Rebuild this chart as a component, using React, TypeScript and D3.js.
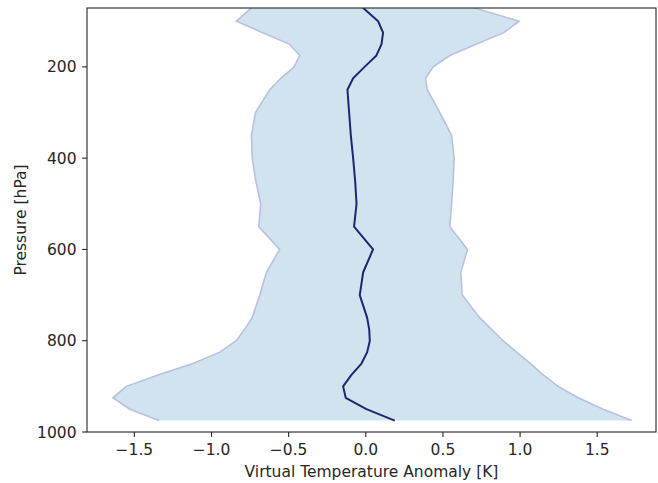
import * as d3 from "d3";

const width = 658;
const height = 483;
const margin = { top: 8, right: 2, bottom: 51, left: 87 };

// pressure levels [hPa]
const levels = [70, 100, 125, 150, 175, 200, 225, 250, 300, 350, 400, 450, 500, 550, 600, 650, 700, 750, 775, 800, 825, 850, 875, 900, 925, 950, 975];
const meanAnom = [-0.02, 0.08, 0.112, 0.102, 0.069, -0.008, -0.082, -0.119, -0.108, -0.097, -0.082, -0.069, -0.06, -0.076, 0.047, -0.017, -0.039, 0.009, 0.022, 0.026, 0.009, -0.028, -0.093, -0.147, -0.13, 0.004, 0.188];
const lowerAnom = [-0.739, -0.839, -0.668, -0.497, -0.428, -0.465, -0.551, -0.623, -0.715, -0.741, -0.736, -0.713, -0.681, -0.694, -0.558, -0.644, -0.687, -0.737, -0.785, -0.839, -0.947, -1.12, -1.347, -1.552, -1.639, -1.53, -1.34];
const upperAnom = [0.696, 0.994, 0.895, 0.718, 0.545, 0.437, 0.387, 0.398, 0.48, 0.556, 0.573, 0.566, 0.556, 0.545, 0.659, 0.616, 0.625, 0.739, 0.815, 0.89, 0.977, 1.068, 1.15, 1.247, 1.377, 1.539, 1.723];

const xTicks = [-1.5, -1.0, -0.5, 0.0, 0.5, 1.0, 1.5];
const yTicks = [200, 400, 600, 800, 1000];

const font = "DejaVu Sans, sans-serif";
const fs = 15.5;
const ink = "#262626";

export default function App() {
  const iw = width - margin.left - margin.right;
  const ih = height - margin.top - margin.bottom;

  const x = d3.scaleLinear().domain([-1.807, 1.881]).range([0, iw]);
  const y = d3.scaleLinear().domain([71, 1000]).range([0, ih]);

  const rows = levels.map((p, i) => ({ p, m: meanAnom[i], lo: lowerAnom[i], hi: upperAnom[i] }));

  const area = d3
    .area<any>()
    .y((d) => y(d.p))
    .x0((d) => x(d.lo))
    .x1((d) => x(d.hi));
  const lo = d3.line<any>().x((d) => x(d.lo)).y((d) => y(d.p));
  const hi = d3.line<any>().x((d) => x(d.hi)).y((d) => y(d.p));
  const mean = d3.line<any>().x((d) => x(d.m)).y((d) => y(d.p));

  const fmt = (v: number) => v.toFixed(1).replace("-", "\u2212");

  return (
    <svg width={width} height={height} style={{ position: "absolute", left: 0, top: 0 }}>
      <defs>
        <clipPath id="plot">
          <rect x={0} y={0} width={iw} height={ih} />
        </clipPath>
      </defs>
      <g transform={`translate(${margin.left},${margin.top})`}>
        <g clipPath="url(#plot)">
          <path d={area(rows) ?? ""} fill="#d1e3ef" stroke="none" />
          <path d={lo(rows) ?? ""} fill="none" stroke="#b8c0e2" strokeWidth={1.6} />
          <path d={hi(rows) ?? ""} fill="none" stroke="#b8c0e2" strokeWidth={1.6} />
          <path d={mean(rows) ?? ""} fill="none" stroke="#1f2670" strokeWidth={2} strokeLinejoin="round" />
        </g>
        <rect x={0} y={0} width={iw} height={ih} fill="none" stroke={ink} strokeWidth={1.1} />
        {xTicks.map((t) => (
          <g key={t} transform={`translate(${x(t)},${ih})`}>
            <line y2={4.9} stroke={ink} strokeWidth={1.1} />
            <text y={23} textAnchor="middle" fontFamily={font} fontSize={fs} fill={ink}>
              {fmt(t)}
            </text>
          </g>
        ))}
        {yTicks.map((t) => (
          <g key={t} transform={`translate(0,${y(t)})`}>
            <line x2={-4.9} stroke={ink} strokeWidth={1.1} />
            <text x={-10.5} dy="0.36em" textAnchor="end" fontFamily={font} fontSize={fs} fill={ink}>
              {t}
            </text>
          </g>
        ))}
        <text x={iw / 2} y={ih + 45} textAnchor="middle" fontFamily={font} fontSize={fs} fill={ink}>
          Virtual Temperature Anomaly [K]
        </text>
        <text
          transform={`translate(${-61},${ih / 2}) rotate(-90)`}
          textAnchor="middle"
          fontFamily={font}
          fontSize={fs}
          fill={ink}
        >
          Pressure [hPa]
        </text>
      </g>
    </svg>
  );
}
